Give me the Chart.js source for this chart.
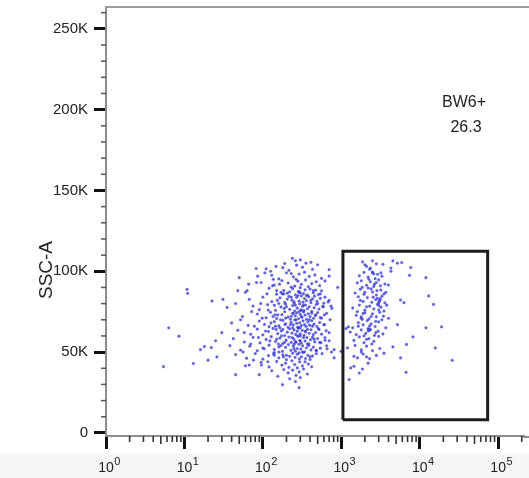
<!DOCTYPE html>
<html>
<head>
<meta charset="utf-8">
<script src="https://cdn.jsdelivr.net/npm/chart.js@4.4.1/dist/chart.umd.min.js"></script>
<style>
html,body{margin:0;padding:0;background:#fff;overflow:hidden;}
canvas{display:block;}
</style>
</head>
<body>
<canvas id="c" width="529" height="478" style="width:529px;height:478px"></canvas>
<script>
// ---------- data ----------
const xDecades = [0, 1, 2, 3, 4, 5];
const yMajorTicks = [0, 50000, 100000, 150000, 200000, 250000];
const yTickLabels = ['0', '50K', '100K', '150K', '200K', '250K'];
const axisTitleY = 'SSC-A';
const gateName = 'BW6+';
const gatePercent = '26.3';
const gateX = [1050, 73500, 73500, 1050, 1050];
const gateY = [8100, 8100, 112400, 112400, 8100];

// events outside the gate: [FL value, SSC-A in K]
const eventsOutside = [
[238,108],[260,106.5],[355,105],[410,105.5],[300,107],[190,104.8],
[82,101.7],[110,101.5],[147,103],[500,104],[700,101],[320,102.5],[270,103.8],[215,100.6],[430,101.2],[180,102.2],
[50,96],[130,97.5],[200,99],[245,96.5],[290,98.3],[340,99.4],[390,96.8],[460,97.7],[560,95.6],[160,95.3],[230,98.6],[700,97],
[95,93],[140,91.5],[175,94.2],[210,92.7],[255,90.8],[280,93.9],[310,91.9],[350,94.6],[380,90.4],[420,92.3],[480,93.5],[530,91.1],[620,94],[900,90],[230,90.2],[265,95],
[10.8,88.8],[11,86.3],[60,87],[120,89.5],[150,85.8],[185,88.1],[205,86.4],[240,89.2],[260,85.4],[285,87.6],[300,89.8],[330,86.1],[345,88.5],[370,85.2],[400,89],[440,86.7],[470,88.3],[510,85.6],[560,87.9],[300,86.6],[220,87.3],
[22.5,81.6],[31,82.6],[67,82.6],[100,84],[130,81.2],[165,83.5],[190,80.7],[215,84.4],[235,82.1],[250,80.3],[270,83.9],[290,81.5],[310,84.7],[325,80.9],[340,83.1],[360,81.8],[385,84.2],[410,80.5],[430,82.9],[455,84.6],[490,81.4],[540,83.3],[600,80.2],[205,82.8],[280,85],
[35,77.6],[75,78.5],[90,76.2],[115,79.3],[145,75.8],[170,77.9],[195,79.6],[220,76.4],[240,78.8],[255,75.4],[275,77.2],[295,79.8],[305,76],[320,78.3],[335,75.6],[350,79.1],[370,76.8],[390,78],[420,75.2],[450,77.5],[480,79.4],[520,76.6],[580,78.2],[740,78.4],[260,79],[310,75.9],
[55,72],[85,73.5],[110,71.2],[125,74.6],[150,70.8],[175,73.1],[190,74.9],[210,71.7],[225,70.3],[245,73.8],[260,72.4],[270,74.3],[285,70.6],[300,73.3],[315,71.5],[330,74.8],[345,72.9],[360,70.2],[380,73.6],[400,71.9],[420,74.1],[445,70.9],[470,72.6],[500,74.4],[540,71.3],[610,73],[230,72.1],[290,75],
[6.3,65],[40,68],[65,66.5],[90,69.2],[105,67.1],[120,65.7],[140,68.8],[160,66.2],[180,69.6],[195,67.5],[210,65.3],[230,68.4],[245,66.8],[255,69.9],[270,67.8],[280,65.5],[295,68.1],[310,66.4],[325,69.3],[340,67],[355,65.9],[375,68.6],[395,66.6],[420,69.4],[450,67.3],[490,65.8],[530,68.3],[600,66.9],[265,70],[300,65.1],
[30,62],[48,63.5],[70,61],[85,64.2],[100,60.6],[118,62.7],[135,64.6],[155,61.4],[172,63.1],[190,60.2],[205,62.3],[220,64.4],[235,61.8],[250,63.7],[262,60.9],[275,62.9],[288,64.8],[300,61.2],[318,63.4],[335,60.4],[350,62.5],[370,64.1],[390,61.6],[410,63.8],[440,60.8],[470,62.1],[510,64.5],[560,61.1],[640,63.2],[280,60.1],[240,64.9],
[8.5,59.8],[25,57],[42,58.3],[58,56.2],[75,59.1],[92,55.7],[110,57.8],[128,59.5],[145,56.5],[165,58.7],[180,55.3],[198,57.4],[215,59.3],[230,56],[248,58.1],[265,55.9],[280,59.7],[295,57.1],[310,55.5],[330,58.9],[345,56.8],[365,59],[385,55.1],[405,57.6],[430,59.2],[460,56.3],[500,58.4],[550,55.8],[620,57.3],[260,56.6],[300,59.9],
[16,51.5],[18,53.4],[22,52.8],[38,54],[52,51.2],[68,53.7],[85,50.8],[100,52.5],[120,54.3],[140,51.6],[160,53.2],[178,50.4],[195,52.9],[212,54.6],[228,51.1],[245,53.5],[260,50.6],[275,52.2],[290,54.8],[305,51.9],[322,53.8],[340,50.2],[360,52.6],[385,54.1],[410,51.3],[440,53],[480,50.9],[540,52.4],[650,53.9],[810,51.5],[990,50.5],[250,54.9],
[20,45],[26,47],[45,48.5],[62,46.2],[80,49.1],[100,45.6],[118,47.8],[140,49.6],[160,46.4],[180,48.2],[200,45.3],[220,47.4],[240,49.3],[258,46.7],[275,48.7],[292,45.8],[310,47.1],[330,49.8],[350,46],[375,48],[400,45.4],[430,47.6],[480,49],[810,46.4],[290,49.5],
[13,42.9],[60,41.5],[67,42],[95,43.6],[120,40.8],[150,44.2],[175,41.9],[195,43.1],[215,40.5],[235,44.6],[255,42.3],[275,40.2],[295,43.9],[320,41.4],[345,44],[380,42.6],[420,40.9],
[5.4,41],[45,36],[90,36],[130,38.4],[155,35],[185,39.2],[210,37.1],[240,38.8],[265,35.6],[290,37.7],[330,39.5],[370,36.4],
[178,29.8],[220,33.5],[260,31.8],[300,34.2],[290,28],
[150,88],[185,86],[230,84],[290,87],[360,85],[440,88],[540,86],[620,84],[170,87],[700,82],
[160,80],[200,78],[250,81],[330,79],[410,82],[500,80],[590,78],[680,81],[140,79],[760,77],
[155,73],[195,71],[240,74],[310,72],[390,70],[470,73],[560,71],[650,74],[135,72],[720,70],
[145,66],[180,64],[225,67],[280,65],[350,63],[430,66],[520,64],[610,67],[700,62],[165,65],
[150,58],[190,56],[235,59],[300,57],[370,55],[450,58],[530,56],[620,59],[700,57],[170,54],
[160,50],[200,48],[250,52],[320,50],[400,47],[480,51],[570,49],[660,52],[140,48],[750,50],
[45,80],[52,70],[58,62],[63,88],[70,55],[72,75],[78,66],[83,93],[88,59],[94,80],
[98,71],[104,52],[108,63],[113,86],[117,76],[123,57],[127,68],[133,91],[137,49],[143,73],
[148,64],[153,82],[158,55],[163,92],[168,70],[173,60],[177,86],[183,47],[187,77],[192,67],
[48,88],[56,50],[66,92],[76,45],[86,97],[96,42],[106,99],[116,44],[126,100],[136,95]
];

// events inside the BW6+ gate: [FL value, SSC-A in K]
const eventsGated = [
[1870,105.8],[2100,103],[2500,106.5],[3400,104.3],[4300,102],[4550,106.4],[5200,105],[5900,105.4],[7700,102.3],[2300,101.2],[2800,104.6],
[1700,97.2],[1950,99.3],[2200,96.4],[2500,99],[2900,98.1],[3300,96.9],[4300,100],[7400,97.5],[12000,96],[2700,95.4],
[1600,92.8],[1800,94.1],[2100,91.3],[2350,93.5],[2600,90.6],[3000,94.7],[3600,92.1],[4000,91.5],[2800,93],
[1500,86.5],[1750,88.9],[1950,85.7],[2200,89.6],[2500,87.2],[2800,85.3],[3200,88.4],[3700,86.9],[2400,89.1],
[1650,84.2],[1900,81.3],[2150,83.7],[2450,80.8],[2750,82.5],[3050,81.5],[3300,84.6],[3600,80.4],[5700,82.2],[6300,80.6],[13000,84.7],[2900,83.2],[3100,82],
[1400,77.3],[1700,79.1],[2000,75.9],[2300,78.4],[2600,76.7],[2900,79.6],[3200,77.8],[3500,75.4],[15000,79.5],[3000,78.9],
[1550,72.7],[1790,71],[2000,74.3],[2250,70.5],[2500,73.6],[2800,71.8],[3100,74.6],[3450,72.2],[4000,70.9],[1900,73.9],
[1150,64.5],[1230,65.6],[1400,65],[1650,68.2],[1900,66.9],[2150,69.5],[2250,64.2],[2400,67.4],[2700,65.8],[3000,68.7],[3700,65],[5200,67],[12000,65],[19000,65.6],[2300,66.2],
[1300,62.4],[1550,60.8],[1800,63.7],[2050,61.5],[2350,64],[2650,60.3],[2950,62.9],[3400,61.2],[2200,63.1],
[1450,57.2],[1700,59.4],[1950,55.8],[2250,58.3],[2600,56.6],[3000,59.7],[8200,59.4],[2100,57.9],
[1200,52.6],[1500,54.1],[1800,51.3],[2100,53.7],[2500,50.9],[3100,52.2],[4550,53.2],[6800,54.7],[15800,52.6],
[1450,47.4],[1610,46.4],[1900,48.8],[2300,45.9],[2800,47.9],[3500,49.3],[5700,46.4],[26000,44.9],
[1320,40.2],[1450,41.2],[1860,39.5],[2200,43.1],
[1700,37],[6700,37.5],[1260,33],
[3000,80.5],[3150,83],[2200,64.5],[2300,63.5],[2500,99.5],[2600,98.4],[1800,71.8],[1850,70.2],
[1600,75],[1750,82],[1850,90],[2000,87],[2100,78],[2250,95],[2400,72],[2550,84],[2650,92],[2750,69],
[2850,88],[3000,76],[3150,91],[3300,70],[3500,86],[3800,79],[1650,66],[1950,60],[2450,55],[2750,62],
[1800,50],[2100,47],[2350,102],[2000,104],[3200,99]
];

// ---------- chart ----------
const FONT = "'Liberation Sans', Arial, Helvetica, sans-serif";
const X_MIN = 1, X_MAX = 215000, Y_MIN = -1900, Y_MAX = 263500;
const toPts = arr => arr.map(p => ({x: p[0], y: p[1] * 1000}));
const gatePts = gateX.map((x, i) => ({x: x, y: gateY[i]}));
const dotStyle = {
  pointRadius: 1.4,
  pointBackgroundColor: 'rgba(50,50,205,0.78)',
  pointBorderColor: 'rgba(110,110,230,0.35)',
  pointBorderWidth: 0.8,
  showLine: false
};
const zeroPad = s => { s.paddingTop = 0; s.paddingBottom = 0; s.paddingLeft = 0; s.paddingRight = 0; };

const decor = {
  id: 'decor',
  beforeDraw(chart) {
    const ctx = chart.ctx;
    ctx.save();
    ctx.fillStyle = '#ffffff';
    ctx.fillRect(0, 0, chart.width, chart.height);
    ctx.fillStyle = '#f5f5f5';
    ctx.fillRect(0, 454, chart.width, chart.height - 454);
    ctx.restore();
  },
  afterDraw(chart) {
    const ctx = chart.ctx, a = chart.chartArea;
    const xs = chart.scales.x, ys = chart.scales.y;
    ctx.save();
    // top frame
    ctx.strokeStyle = '#9a9a9a'; ctx.lineWidth = 2;
    ctx.beginPath(); ctx.moveTo(a.left - 1, a.top); ctx.lineTo(chart.width, a.top); ctx.stroke();
    // extend bottom axis line to the edge
    ctx.strokeStyle = '#8c8c8c'; ctx.lineWidth = 2;
    ctx.beginPath(); ctx.moveTo(a.right - 1, a.bottom + 1); ctx.lineTo(chart.width, a.bottom + 1); ctx.stroke();
    // x minor ticks
    ctx.strokeStyle = '#333'; ctx.lineWidth = 1.6;
    xDecades.forEach(d => {
      for (let m = 2; m <= 9; m++) {
        const v = m * Math.pow(10, d);
        if (v > X_MAX) continue;
        const px = xs.getPixelForValue(v);
        const len = (m === 5) ? 8 : 6;
        ctx.beginPath(); ctx.moveTo(px, a.bottom); ctx.lineTo(px, a.bottom + len); ctx.stroke();
      }
    });
    // y minor ticks
    ctx.strokeStyle = '#555'; ctx.lineWidth = 1.5;
    for (let v = 10000; v <= 260000; v += 10000) {
      if (v % 50000 === 0) continue;
      const py = ys.getPixelForValue(v);
      ctx.beginPath(); ctx.moveTo(a.left - 5, py); ctx.lineTo(a.left, py); ctx.stroke();
    }
    // x labels 10^n
    ctx.fillStyle = '#222';
    ctx.textBaseline = 'alphabetic';
    xDecades.forEach(d => {
      const px = xs.getPixelForValue(Math.pow(10, d));
      ctx.font = '14px ' + FONT;
      ctx.textAlign = 'center';
      ctx.fillText('10', px, 472);
      const w = ctx.measureText('10').width;
      ctx.font = '11px ' + FONT;
      ctx.textAlign = 'left';
      ctx.fillText(String(d), px + w / 2 + 0.5, 465);
    });
    // y title
    ctx.translate(47, 270);
    ctx.rotate(-Math.PI / 2);
    ctx.font = '19px ' + FONT;
    ctx.textAlign = 'center';
    ctx.textBaseline = 'middle';
    ctx.fillStyle = '#222';
    ctx.fillText(axisTitleY, 0, 0);
    ctx.restore();
    // gate label
    ctx.save();
    ctx.font = '16px ' + FONT;
    ctx.fillStyle = '#222';
    ctx.textAlign = 'center';
    ctx.textBaseline = 'middle';
    ctx.fillText(gateName, 464, 103);
    ctx.fillText(gatePercent, 466, 128);
    ctx.restore();
  }
};

new Chart(document.getElementById('c'), {
  type: 'scatter',
  data: {
    datasets: [
      {type: 'line', label: 'gate', data: gatePts, borderColor: '#1c1c1c', borderWidth: 3,
       pointRadius: 0, fill: false, tension: 0, showLine: true, borderJoinStyle: 'miter'},
      Object.assign({label: 'gated', data: toPts(eventsGated)}, dotStyle),
      Object.assign({label: 'outside', data: toPts(eventsOutside)}, dotStyle)
    ]
  },
  options: {
    responsive: false,
    animation: false,
    devicePixelRatio: 1,
    layout: {padding: {top: 7, right: 0, left: 0, bottom: 0}},
    plugins: {legend: {display: false}, tooltip: {enabled: false}},
    scales: {
      x: {
        type: 'logarithmic', min: X_MIN, max: X_MAX,
        afterBuildTicks: s => { s.ticks = xDecades.map(d => ({value: Math.pow(10, d), major: true})); },
        afterFit: s => { s.height = 42; zeroPad(s); },
        ticks: {autoSkip: false, callback: () => '', font: {size: 1}},
        grid: {drawOnChartArea: false, drawTicks: true, tickLength: 13, tickColor: '#111', tickWidth: 3},
        border: {color: '#8c8c8c', width: 2}
      },
      y: {
        type: 'linear', min: Y_MIN, max: Y_MAX,
        afterBuildTicks: s => { s.ticks = yMajorTicks.map(v => ({value: v})); },
        afterFit: s => { s.width = 106; zeroPad(s); },
        ticks: {autoSkip: false, padding: 6, color: '#222',
                font: {family: FONT, size: 15},
                callback: (v) => { const i = yMajorTicks.indexOf(v); return i >= 0 ? yTickLabels[i] : ''; }},
        grid: {drawOnChartArea: false, drawTicks: true, tickLength: 12, tickColor: '#111', tickWidth: 3},
        border: {color: '#8c8c8c', width: 2}
      }
    }
  },
  plugins: [decor]
});
</script>
</body>
</html>
